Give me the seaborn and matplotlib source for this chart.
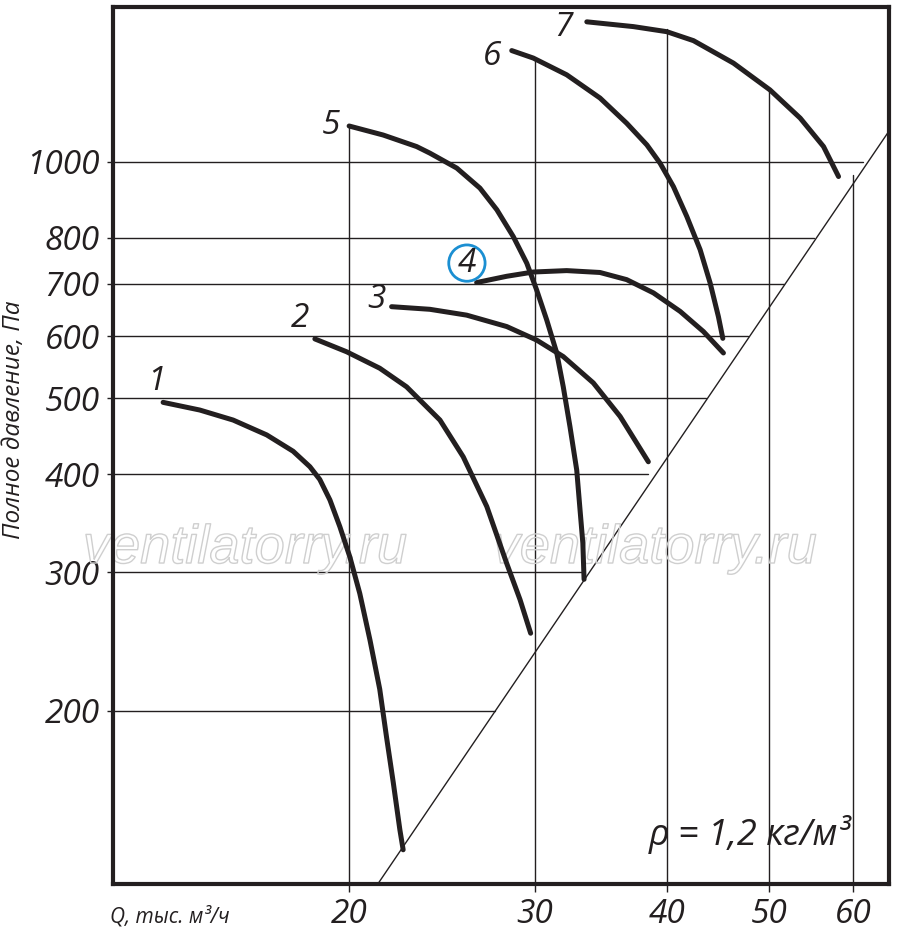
import numpy as np
import pandas as pd
import seaborn as sns
import matplotlib.pyplot as plt
from matplotlib.ticker import NullLocator, FixedLocator
from matplotlib import patheffects

# fan curves: Q in thousand m3/h, P in Pa
q1 = [13.34, 14.45, 15.54, 16.72, 17.71, 18.37, 18.77, 19.19, 19.61, 20.04,
      20.48, 20.94, 21.39, 21.71, 22.03, 22.35, 22.51]
p1 = [494, 483, 469, 449, 428, 409, 394, 371, 343, 314,
      282, 246, 213, 185, 162, 141, 133]
q2 = [18.57, 19.90, 21.39, 22.68, 24.39, 25.66, 27.01, 28.21, 29.04, 29.72]
p2 = [595, 573, 546, 517, 469, 421, 364, 308, 277, 251]
q3 = [21.95, 23.86, 25.85, 28.21, 30.11, 31.91, 34.07, 36.12, 38.41]
p3 = [654, 649, 638, 617, 593, 565, 523, 474, 415]
q4 = [26.42, 28.21, 29.89, 32.15, 34.57, 36.64, 38.84, 41.17, 43.31, 45.24]
p4 = [702, 715, 724, 727, 723, 708, 681, 645, 608, 571]
q5 = [20.01, 21.55, 23.18, 23.86, 25.30, 26.61, 27.61, 28.62, 29.47, 30.11,
      30.78, 31.46, 31.91, 32.38, 32.86, 33.10, 33.30, 33.39]
p5 = [1111, 1082, 1046, 1026, 982, 926, 869, 803, 743, 687,
      629, 571, 517, 460, 405, 360, 327, 294]
q6 = [28.52, 29.89, 32.15, 34.57, 36.64, 38.29, 39.41, 40.57, 41.77, 43.00,
      43.95, 44.75, 45.18]
p6 = [1386, 1356, 1291, 1206, 1120, 1051, 996, 930, 852, 773,
      701, 635, 596]
q7 = [33.59, 37.18, 39.99, 42.38, 46.24, 50.07, 53.48, 56.27, 58.14]
p7 = [1508, 1487, 1465, 1427, 1336, 1235, 1137, 1046, 958]

curve_names = ["1", "2", "3", "4", "5", "6", "7"]
curves_q = [q1, q2, q3, q4, q5, q6, q7]
curves_p = [p1, p2, p3, p4, p5, p6, p7]
# label offsets from the curve start, in points
label_dx = [-5, -11, -11, -7, -13, -14, -17]
label_dy = [15, 15, 5, 14, 0, -4, -4]

# grid: horizontal lines run to the system line, vertical ones up to the top curve
y_ticks = [200, 300, 400, 500, 600, 700, 800, 1000]
y_grid_end = [27.5, 33.3, 38.4, 43.6, 47.7, 51.6, 55.1, 61.3]
x_ticks = [20, 30, 40, 50, 60]
x_grid_top = [1108, 1349, 1476, 1235, 962]

# system line P ~ Q^2
sys_q = [21.3, 65.0]
sys_p = [120.3, 1098.0]

x_min, x_max = 11.96, 64.9
y_min, y_max = 120.3, 1575

ink = "#231f20"

sns.set_theme(style="white")
plt.rcParams['font.family'] = ['Open Sans', 'DejaVu Sans']

fig = plt.figure(figsize=(9, 9.33), dpi=100)
ax = fig.add_axes([113 / 900, 49 / 933, 776 / 900, 877 / 933])
ax.set_xscale('log')
ax.set_yscale('log')
ax.set_xlim(x_min, x_max)
ax.set_ylim(y_min, y_max)

for p, qe in zip(y_ticks, y_grid_end):
    ax.plot([x_min, qe], [p, p], color=ink, lw=1.0, zorder=1)
for q, pt in zip(x_ticks, x_grid_top):
    ax.plot([q, q], [y_min, pt], color=ink, lw=1.0, zorder=1)
ax.plot(sys_q, sys_p, color=ink, lw=1.0, zorder=1)

# watermark
for xf in [0.170, 0.698]:
    ax.text(xf, 0.366, "ventilatorry.ru", transform=ax.transAxes, ha='center',
            va='baseline', fontsize=39, fontstyle='italic', family='Liberation Sans',
            color='none', zorder=2,
            path_effects=[patheffects.withStroke(linewidth=1.0, foreground='#cfcfcf')])

for name, q, p, dx, dy in zip(curve_names, curves_q, curves_p, label_dx, label_dy):
    df = pd.DataFrame({'Q': q, 'P': p})
    sns.lineplot(data=df, x='Q', y='P', ax=ax, sort=False, estimator=None,
                 color=ink, lw=3.6, solid_capstyle='round',
                 solid_joinstyle='round', zorder=3)
    kw = {}
    if name == "4":
        kw['bbox'] = dict(boxstyle='circle,pad=0.05', fc='none', ec='#1b8fd2', lw=2.0)
    ax.annotate(name, (q[0], p[0]), xytext=(dx, dy), textcoords='offset points',
                ha='center', va='center', fontsize=24, fontstyle='italic',
                color=ink, zorder=4, **kw)

ax.set_xlabel("")
ax.set_ylabel("")
ax.xaxis.set_major_locator(FixedLocator(x_ticks))
ax.yaxis.set_major_locator(FixedLocator(y_ticks))
ax.xaxis.set_minor_locator(NullLocator())
ax.yaxis.set_minor_locator(NullLocator())
ax.set_xticklabels([str(v) for v in x_ticks], fontstyle='italic')
ax.set_yticklabels([str(v) for v in y_ticks], fontstyle='italic')
ax.tick_params(axis='x', direction='out', length=6, width=1, pad=4,
               labelsize=24, colors=ink, bottom=True)
ax.tick_params(axis='y', direction='out', length=4.5, width=1, pad=5,
               labelsize=24, colors=ink, left=True)

for s in ax.spines.values():
    s.set_color(ink)
    s.set_linewidth(3)

ax.text(0.691, 0.0445, "ρ = 1,2 кг/м³", transform=ax.transAxes, ha='left',
        va='baseline', fontsize=26, fontstyle='italic', color=ink, zorder=4)

fig.text(14 / 900, 1 - 420 / 933, "Полное давление, Па", rotation=90,
         ha='center', va='center', fontsize=17.5, fontstyle='italic', color=ink)
fig.text(110 / 900, 1 - 917 / 933, "Q, тыс. м³/ч", ha='left', va='center',
         fontsize=15, fontstyle='italic', color=ink)

fig.savefig("out.png", dpi=100, facecolor='white')
